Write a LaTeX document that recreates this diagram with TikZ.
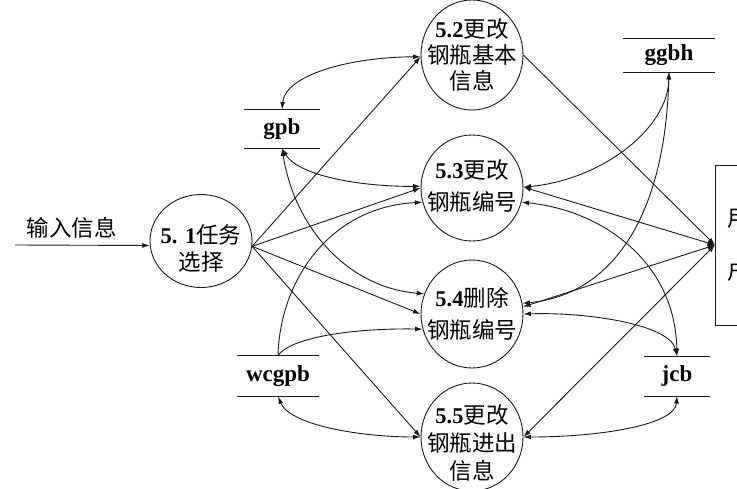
\documentclass[tikz,border=0pt]{standalone}
\usepackage{fontspec}
\setmainfont{Liberation Serif}
\newfontfamily\cjk{Noto Sans CJK SC}
\usetikzlibrary{arrows.meta,shapes.geometric}
\begin{document}
\begin{tikzpicture}[x=1pt,y=-1pt, line width=0.9pt, draw=black!90,
  proc/.style={draw, ellipse, minimum width=102pt, minimum height=#1, inner sep=0pt},
  ptext/.style={font=\cjk\fontsize{22.5}{#1}\selectfont, align=center, inner sep=0pt},
  store/.style={minimum width=#1, minimum height=38pt, inner sep=0pt,
    font=\fontsize{23}{26}\selectfont\bfseries,
    append after command={(\tikzlastnode.north west) edge[-] (\tikzlastnode.north east)
                          (\tikzlastnode.south west) edge[-] (\tikzlastnode.south east)}},
  tip/.tip={Latex[length=7.5pt,width=5pt]},
  flow/.style={-tip},
  dflow/.style={tip-tip}]
\useasboundingbox (0,0) rectangle (737,488);
\clip (0,0) rectangle (737,488);

% processes
\node[proc=93pt] (p1) at (201,241) {};
\node[ptext=27pt, yshift=-7pt] (t1) at (p1) {{\rmfamily\bfseries 5. 1}任务\\选择};
\node[proc=110pt] (p2) at (472,55) {};
\node[ptext=26pt] (t2) at (p2) {{\rmfamily\bfseries 5.2}更改\\钢瓶基本\\信息};
\node[proc=106pt] (p3) at (472,188) {};
\node[ptext=32pt, yshift=2pt] (t3) at (p3) {{\rmfamily\bfseries 5.3}更改\\钢瓶编号};
\node[proc=108pt] (p4) at (472,314) {};
\node[ptext=32pt] (t4) at (p4) {{\rmfamily\bfseries 5.4}删除\\钢瓶编号};
\node[proc=108pt] (p5) at (472,437) {};
\node[ptext=28pt, yshift=-6pt] (t5) at (p5) {{\rmfamily\bfseries 5.5}更改\\钢瓶进出\\信息};

% data stores
\node[store=75pt] (gpb) at (282,129) {gpb};
\node[store=81pt, minimum height=40pt] (wcgpb) at (278,376) {wcgpb};
\node[store=65pt, minimum height=39pt] (jcb) at (677,376) {jcb};
\node[store=92pt, minimum height=33pt] (ggbh) at (669,55) {ggbh};

% external entity
\node[draw, anchor=west, minimum height=160pt, text width=23pt, inner xsep=12pt,
      align=left, font=\cjk\fontsize{22.5}{53}\selectfont] (user) at (715,245) {用\\户};

% input
\coordinate (in) at (15,245);
\node[font=\cjk\fontsize{22.5}{26}\selectfont, inner sep=0pt] (inlabel) at (72,228) {输入信息};
\draw[flow] (in) -- (p1.185);

% from 5.1
\draw[flow] (p1.-6) -- (p2.182);
\draw[flow] (p1.-6) -- (p3.180);
\draw[flow] (p1.-6) -- (p4.180);
\draw[flow] (p1.-6) -- (p5.180);

% gpb
\draw[dflow] (gpb.north) .. controls (285,75) and (350,57) .. (p2.182);
\draw[dflow] (gpb.south) .. controls (300,178) and (370,187) .. (p3.178);
\draw[dflow] (gpb.south) .. controls (295,230) and (350,288) .. (p4.157);

% wcgpb
\draw[flow] (wcgpb.north) .. controls (280,280) and (330,207) .. (p3.196);
\draw[flow] (wcgpb.north) .. controls (290,338) and (350,328) .. (p4.197);
\draw[dflow] (wcgpb.south) .. controls (290,425) and (360,437) .. (p5.180);

% ggbh
\draw[dflow] (ggbh.south) .. controls (668,130) and (600,180) .. (p3.1);
\draw[dflow] (ggbh.south) .. controls (665,220) and (610,295) .. (p4.12);

% jcb
\draw[dflow] (p3.344) .. controls (600,210) and (675,260) .. (jcb.north);
\draw[dflow] (p4.0) .. controls (590,312) and (670,325) .. (jcb.north);
\draw[dflow] (jcb.south) .. controls (675,425) and (600,437) .. (p5.0);

% user
\draw[flow] (p2.0) -- (user.west);
\draw[dflow] (user.west) -- (p3.1);
\draw[dflow] (user.west) -- (p4.8);
\draw[dflow] (user.west) -- (p5.0);
\end{tikzpicture}
\end{document}
